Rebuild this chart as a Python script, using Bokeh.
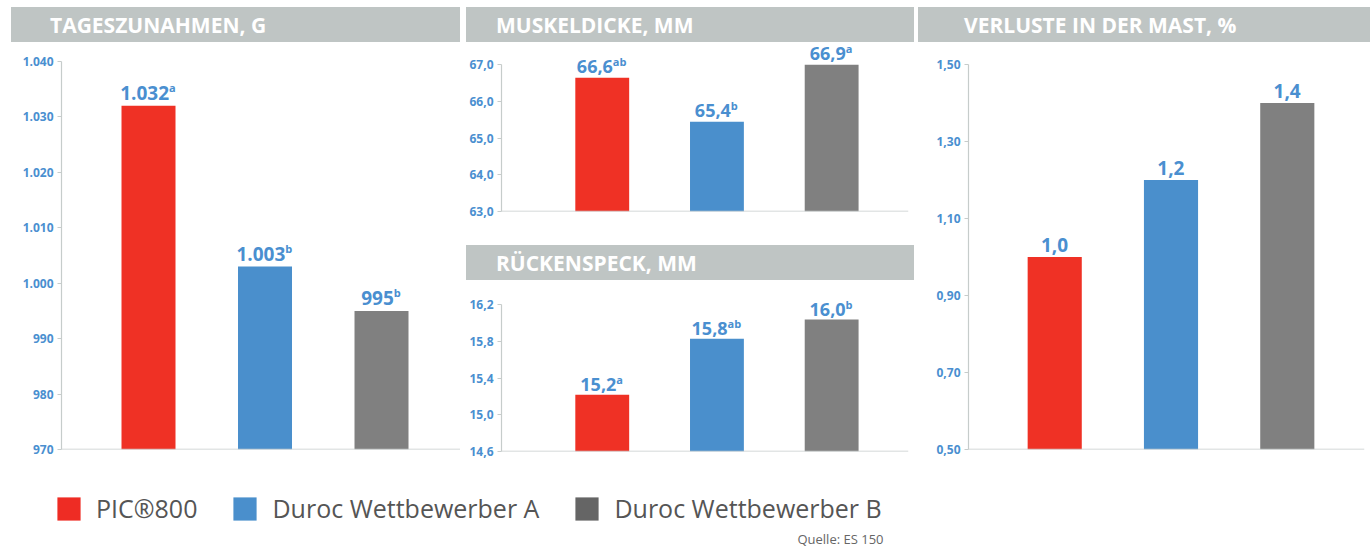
from bokeh.plotting import figure
from bokeh.models import (ColumnDataSource, Div, Spacer, Span, FixedTicker, Range1d,
                          Legend, LegendItem, Label)
from bokeh.layouts import row, column
from bokeh.core.properties import value
from bokeh.embed import file_html
from bokeh.resources import INLINE

# ---------------- data ----------------
GROUPS = ["PIC®800", "Duroc Wettbewerber A", "Duroc Wettbewerber B"]
POSITIONS = [1, 2, 3]

TAGES_TITLE = "TAGESZUNAHMEN, G"
TAGES_VALUES = [1032, 1003, 995]
TAGES_LABELS = ["1.032", "1.003", "995"]
TAGES_SUP = ["a", "b", "b"]
TAGES_TICKS = [970, 980, 990, 1000, 1010, 1020, 1030, 1040]
TAGES_TICK_LABELS = ["970", "980", "990", "1.000", "1.010", "1.020", "1.030", "1.040"]

MUSKEL_TITLE = "MUSKELDICKE, MM"
MUSKEL_VALUES = [66.65, 65.45, 67.0]
MUSKEL_LABELS = ["66,6", "65,4", "66,9"]
MUSKEL_SUP = ["ab", "b", "a"]
MUSKEL_TICKS = [63.0, 64.0, 65.0, 66.0, 67.0]
MUSKEL_TICK_LABELS = ["63,0", "64,0", "65,0", "66,0", "67,0"]

RUECKEN_TITLE = "RÜCKENSPECK, MM"
RUECKEN_VALUES = [15.22, 15.83, 16.04]
RUECKEN_LABELS = ["15,2", "15,8", "16,0"]
RUECKEN_SUP = ["a", "ab", "b"]
RUECKEN_TICKS = [14.6, 15.0, 15.4, 15.8, 16.2]
RUECKEN_TICK_LABELS = ["14,6", "15,0", "15,4", "15,8", "16,2"]

VERLUSTE_TITLE = "VERLUSTE IN DER MAST, %"
VERLUSTE_VALUES = [1.0, 1.2, 1.4]
VERLUSTE_LABELS = ["1,0", "1,2", "1,4"]
VERLUSTE_SUP = ["", "", ""]
VERLUSTE_TICKS = [0.5, 0.7, 0.9, 1.1, 1.3, 1.5]
VERLUSTE_TICK_LABELS = ["0,50", "0,70", "0,90", "1,10", "1,30", "1,50"]

SOURCE_NOTE = "Quelle: ES 150"

# ---------------- styles ----------------
BAR_COLORS = ["#ef3125", "#4a8fcc", "#808080"]
LEGEND_COLORS = ["#ee2c24", "#4a8fcc", "#656565"]
BAND = "#bfc5c4"
BLUE_TXT = "#4a8fd0"
AXIS = "#c6cccb"
FONT = "Open Sans"

DIGIT_W = {".": 0.27, ",": 0.27}
SUP_W = {"a": 0.60, "b": 0.63}


def text_w(s, fs, table, default=0.572):
    return sum(table.get(c, default) for c in s) * fs


def band(text, w, h, indent):
    return Div(text=text, width=w, height=h, margin=0, styles={
        "background-color": BAND, "color": "white", "font-family": FONT,
        "font-weight": "bold", "font-size": "21px", "line-height": f"{h + 1}px",
        "text-indent": f"{indent}px", "white-space": "nowrap", "overflow": "hidden"})


def panel(values, labels, sups, ticks, tick_labels, w, h, borders, xr, yr, bar_w,
          fs_main, gap, headroom=0.0):
    left, right, top, bottom = borders
    p = figure(width=w, height=h, output_backend="svg", toolbar_location=None,
               x_range=Range1d(*xr), y_range=Range1d(yr[0], yr[1] + headroom),
               margin=0, min_border_left=left, min_border_right=right,
               min_border_top=top, min_border_bottom=bottom)
    p.outline_line_color = None
    p.grid.visible = False
    p.xaxis.visible = False
    ya = p.yaxis[0]
    ya.bounds = (yr[0], yr[1])
    ya.ticker = FixedTicker(ticks=ticks)
    ya.major_label_overrides = {t: l for t, l in zip(ticks, tick_labels)}
    ya.axis_line_color = AXIS
    ya.axis_line_width = 1.2
    ya.major_tick_line_color = AXIS
    ya.major_tick_in = 0
    ya.major_tick_out = 4
    ya.minor_tick_line_color = None
    ya.major_label_standoff = 4
    ya.major_label_text_font = FONT
    ya.major_label_text_font_style = "bold"
    ya.major_label_text_font_size = "12px"
    ya.major_label_text_color = BLUE_TXT

    fs_sup = 11
    offs = []
    for m, s in zip(labels, sups):
        mw = text_w(m, fs_main, DIGIT_W)
        sw = text_w(s, fs_sup, SUP_W) + (1 if s else 0)
        offs.append((mw - sw) / 2.0)
    src = ColumnDataSource(dict(x=POSITIONS, top=values, color=BAR_COLORS,
                                main=labels, sup=sups, off=offs))
    p.vbar(x="x", top="top", bottom=yr[0], width=bar_w, color="color",
           line_color=None, source=src)
    main_off = -(gap + 7)
    p.text(x="x", y="top", text="main", x_offset="off", y_offset=main_off, source=src,
           text_align="right", text_baseline="alphabetic", text_color=BLUE_TXT,
           text_font=value(FONT), text_font_style="bold",
           text_font_size=f"{fs_main}px")
    p.text(x="x", y="top", text="sup", x_offset="off", y_offset=main_off - 5, source=src,
           text_align="left", text_baseline="alphabetic", text_color=BLUE_TXT,
           text_font=value(FONT), text_font_style="bold",
           text_font_size=f"{fs_sup}px")
    p.add_layout(Span(location=yr[0], dimension="width", line_color=AXIS,
                      line_width=1.5))
    return p


f_tages = panel(TAGES_VALUES, TAGES_LABELS, TAGES_SUP, TAGES_TICKS, TAGES_TICK_LABELS,
                449, 428, (50, 0, 19, 21), (0.2532, 3.678), (970, 1040), 0.4635, 19, 6)
f_muskel = panel(MUSKEL_VALUES, MUSKEL_LABELS, MUSKEL_SUP, MUSKEL_TICKS, MUSKEL_TICK_LABELS,
                 448, 203, (34, 6, 4, 34), (0.1217, 3.670), (63.0, 67.0), 0.4696, 18, 4,
                 headroom=0.5)
f_ruecken = panel(RUECKEN_VALUES, RUECKEN_LABELS, RUECKEN_SUP, RUECKEN_TICKS,
                  RUECKEN_TICK_LABELS, 448, 190, (34, 6, 6, 19), (0.1217, 3.670),
                  (14.6, 16.2), 0.4696, 18, 3, headroom=0.2)
f_verl = panel(VERLUSTE_VALUES, VERLUSTE_LABELS, VERLUSTE_SUP, VERLUSTE_TICKS,
               VERLUSTE_TICK_LABELS, 452, 428, (50, 6, 22, 21), (0.2586, 3.664),
               (0.5, 1.5), 0.4655, 19, 5)

left_col = column(band(TAGES_TITLE, 449, 35, 39), f_tages, margin=0, spacing=0)
mid_col = column(band(MUSKEL_TITLE, 448, 35, 30), f_muskel,
                 band(RUECKEN_TITLE, 448, 35, 30), f_ruecken, margin=0, spacing=0)
right_col = column(band(VERLUSTE_TITLE, 452, 35, 46), f_verl, margin=0, spacing=0)
main_row = row(Spacer(width=11, height=463, margin=0), left_col,
               Spacer(width=6, height=463, margin=0), mid_col,
               Spacer(width=4, height=463, margin=0), right_col, margin=0, spacing=0)

# legend strip
lg = figure(width=1370, height=76, output_backend="svg", toolbar_location=None,
            min_border_left=0, min_border_right=0, min_border_top=0, min_border_bottom=0,
            x_range=Range1d(0, 1), y_range=Range1d(0, 1), margin=0)
lg.outline_line_color = None
lg.grid.visible = False
lg.axis.visible = False
items = []
for name, col in zip(GROUPS, LEGEND_COLORS):
    r = lg.quad(left=[5], right=[6], top=[6], bottom=[5], fill_color=col, line_color=None)
    items.append(LegendItem(label=name, renderers=[r]))
leg = Legend(items=items, orientation="horizontal", location=(54, 21),
             glyph_width=29, glyph_height=29, label_standoff=13, spacing=33,
             padding=0, margin=0, border_line_color=None, background_fill_alpha=0,
             label_text_font=FONT, label_text_font_size="25px",
             label_text_color="#555555", label_text_baseline="middle")
lg.add_layout(leg, "center")
lg.add_layout(Label(x=883, y=8, x_units="screen", y_units="screen", text=SOURCE_NOTE,
                    text_align="right", text_baseline="middle", text_font=FONT,
                    text_font_size="13px", text_color="#666666"))

layout = column(Spacer(width=1370, height=7, margin=0), main_row, lg,
                margin=0, spacing=0)
open("out.html", "w").write(file_html(layout, INLINE))
